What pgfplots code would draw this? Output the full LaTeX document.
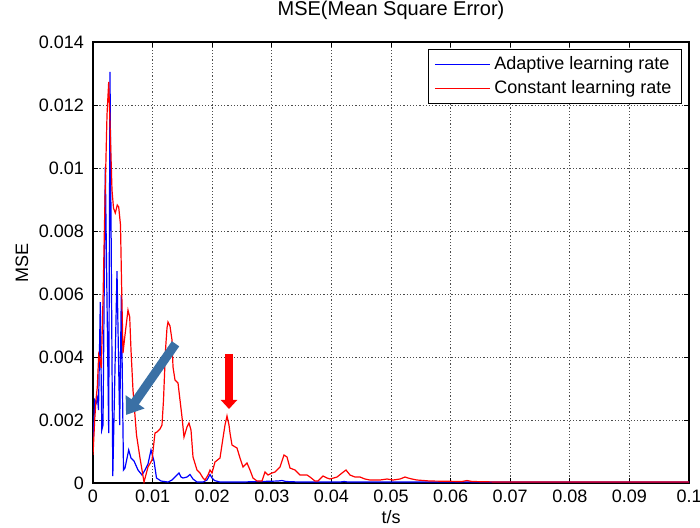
\documentclass[border=0pt]{standalone}
\usepackage{fontspec}
\setmainfont{Liberation Sans}
\usepackage{pgfplots}
\pgfplotsset{compat=1.18}
\usetikzlibrary{arrows.meta}
\definecolor{adaptblue}{RGB}{0,0,255}
\definecolor{constred}{RGB}{255,0,0}
\definecolor{notearrow}{RGB}{58,112,165}
\newcommand{\chartfont}{\fontsize{9}{11}\selectfont}

\begin{document}
\begin{tikzpicture}
\useasboundingbox (-46.5pt,-22pt) rectangle (303.5pt,241.5pt);
\begin{axis}[
  scale only axis, width=298pt, height=220.5pt,
  xmin=0, xmax=0.1, ymin=0, ymax=0.014,
  xtick={0,0.01,0.02,0.03,0.04,0.05,0.06,0.07,0.08,0.09,0.1},
  ytick={0,0.002,0.004,0.006,0.008,0.01,0.012,0.014},
  scaled x ticks=false, scaled y ticks=false,
  xticklabel style={/pgf/number format/fixed, /pgf/number format/precision=2},
  yticklabel style={/pgf/number format/fixed, /pgf/number format/precision=3, xshift=-1pt},
  /pgf/number format/assume math mode=true,
  tick label style={font=\chartfont},
  grid=major,
  major grid style={dash pattern=on 0.6pt off 1pt, line width=0.5pt, black!70},
  tick align=inside, major tick length=2.5pt,
  axis line style={line width=0.65pt},
  every tick/.style={black, line width=0.5pt},
  title={MSE(Mean Square Error)},
  title style={at={(axis description cs:0.5,1.0454)}, anchor=center, font=\fontsize{10}{12}\selectfont},
  xlabel={t/s},
  xlabel style={at={(axis description cs:0.5,-0.0771)}, anchor=center, font=\chartfont},
  ylabel={MSE},
  ylabel style={at={(axis description cs:-0.1191,0.5)}, anchor=center, rotate=0, font=\chartfont},
  legend style={at={(axis description cs:1,1)}, anchor=north east, xshift=-3.5pt, yshift=-3.5pt,
    draw=black, line width=0.5pt, font=\chartfont, cells={anchor=west},
    inner xsep=3pt, inner ysep=1.5pt},
  legend image code/.code={\draw[#1] (0pt,0pt) -- (27.5pt,0pt);},
]
% adaptive learning rate
\addplot[adaptblue, line width=0.6pt] coordinates {
(0,0.001206) (0.000285,0.002635) (0.000554,0.00254) (0.000755,0.002698) (0.000923,0.002317)
(0.001225,0.005746) (0.001477,0.001683) (0.001678,0.001841) (0.002064,0.010032) (0.002634,0.001587)
(0.002852,0.013048) (0.003322,0.000222) (0.004027,0.00673) (0.00448,0.001841) (0.004748,0.005968)
(0.005117,0.000413) (0.005369,0.000476) (0.00599,0.001048) (0.006376,0.000794) (0.006879,0.000698)
(0.00755,0.000413) (0.008221,0.000254) (0.008725,0.000413) (0.009228,0.000603) (0.009732,0.001048)
(0.010235,0.000698) (0.010654,0.000159) (0.011409,0.000063) (0.012584,0.00003) (0.013255,0.000095)
(0.013926,0.000222) (0.01443,0.000317) (0.014765,0.00019) (0.015101,0.000159) (0.015772,0.00019)
(0.016275,0.00027) (0.016779,0.000127) (0.01745,0.00003) (0.018456,0.00003) (0.019128,0.000095)
(0.019631,0.00027) (0.019966,0.000159) (0.020386,0.000079) (0.021309,0.00003) (0.024664,0.00003)
(0.03104,0.000063) (0.031711,0.000079) (0.032383,0.000048) (0.034732,0.00003) (0.041443,0.00003)
(0.042114,0.000048) (0.042785,0.00003) (0.05151,0.00003) (0.1,0.00003)
};
\addlegendentry{Adaptive learning rate}
% constant learning rate
\addplot[constred, line width=0.6pt] coordinates {
(0,0.00089) (0.000285,0.002) (0.000503,0.002635) (0.000721,0.003048) (0.000956,0.004063)
(0.001174,0.003905) (0.001393,0.003651) (0.001678,0.00581) (0.002013,0.008984) (0.002349,0.011683)
(0.002634,0.01273) (0.002936,0.010889) (0.003188,0.009302) (0.00344,0.00873) (0.003742,0.008571)
(0.004077,0.008825) (0.004312,0.008762) (0.004614,0.00819) (0.004782,0.006444) (0.005034,0.004127)
(0.005369,0.004698) (0.005872,0.005492) (0.006158,0.00527) (0.006376,0.004222) (0.006711,0.002952)
(0.007299,0.001524) (0.007886,0.000794) (0.008557,0.00003) (0.009228,0.000508) (0.009899,0.00073)
(0.010403,0.001587) (0.010738,0.001619) (0.011242,0.001714) (0.011577,0.001841) (0.011829,0.002635)
(0.012164,0.004222) (0.012416,0.004921) (0.012584,0.005111) (0.012919,0.004984) (0.013255,0.00454)
(0.013423,0.003683) (0.013758,0.00327) (0.014262,0.003175) (0.014597,0.002635) (0.014933,0.002095)
(0.015268,0.00146) (0.015772,0.001778) (0.016107,0.001905) (0.016443,0.001683) (0.016779,0.000825)
(0.01745,0.000413) (0.017953,0.000317) (0.018456,0.000159) (0.018792,0.000095) (0.019295,0.000254)
(0.019631,0.000413) (0.019966,0.000317) (0.02047,0.000667) (0.021309,0.000794) (0.021812,0.001429)
(0.022148,0.001841) (0.022483,0.002127) (0.022819,0.001841) (0.022987,0.001587) (0.023322,0.001206)
(0.024161,0.001111) (0.024664,0.000794) (0.025168,0.000508) (0.025839,0.000635) (0.026342,0.000413)
(0.026846,0.000159) (0.027517,0.000063) (0.028356,0.000063) (0.028859,0.000349) (0.029362,0.000254)
(0.030034,0.000317) (0.030537,0.000349) (0.031376,0.000508) (0.032047,0.000889) (0.03255,0.000825)
(0.033054,0.000476) (0.033893,0.000413) (0.034732,0.000254) (0.035906,0.000254) (0.03641,0.00019)
(0.037248,0.000063) (0.037752,0.000063) (0.038591,0.000222) (0.039262,0.000159) (0.039765,0.000127)
(0.04094,0.00019) (0.041779,0.000317) (0.04245,0.000413) (0.043121,0.000254) (0.04396,0.00019)
(0.044799,0.00019) (0.045638,0.000127) (0.046477,0.000095) (0.048154,0.000095) (0.04933,0.000127)
(0.050336,0.000095) (0.05151,0.000127) (0.05235,0.00019) (0.052852,0.000159) (0.053523,0.000127)
(0.054362,0.000095) (0.056544,0.000063) (0.061913,0.000048) (0.062752,0.000079) (0.063591,0.000048)
(0.068289,0.00003) (0.085067,0.00003) (0.1,0.00003)
};
\addlegendentry{Constant learning rate}
% annotation arrows
\draw[notearrow, line width=4.5pt, -{Triangle[width=11pt,length=8pt]}]
  (axis cs:0.01385,0.00442) -- (axis cs:0.00554,0.00216);
\draw[constred, line width=4pt, -{Triangle[width=8pt,length=4.5pt]}]
  (axis cs:0.02282,0.00410) -- (axis cs:0.02282,0.00235);
\end{axis}
\end{tikzpicture}
\end{document}
